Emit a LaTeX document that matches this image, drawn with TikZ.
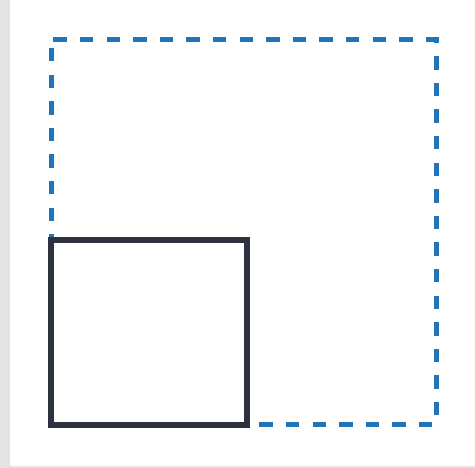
\documentclass[tikz,border=0pt]{standalone}
\usepackage{tikz}
\definecolor{RegionBlue}{RGB}{31,116,186}
\definecolor{BoxInk}{RGB}{46,49,64}
\definecolor{EdgeGray}{RGB}{227,227,227}

\tikzset{
  outer/.style={inner sep=0pt, outer sep=0pt, minimum width=385pt, minimum height=385pt},
  outerline/.style={draw=RegionBlue, line width=5pt, dash pattern=on 13.4pt off 13.2pt},
  inner/.style={draw=BoxInk, line width=6pt, fill=white,
    inner sep=0pt, minimum width=196pt, minimum height=185pt}
}

\begin{document}
\begin{tikzpicture}[x=1pt,y=-1pt]
\useasboundingbox (0,0) rectangle (475,468);
% page edges
\fill[EdgeGray] (0,0) rectangle (10,468);
\fill[EdgeGray] (10,466) rectangle (475,468);
% dashed region, drawn clockwise from just right of its top left corner
\node[outer] (region) at (243.5,232.5) {};
\coordinate (start) at ([xshift=2.3pt]region.north west);
\draw[outerline] (start) -- (region.north east) -- (region.south east)
  -- (region.south west) -- (region.north west) -- (start);
% solid box on top
\node[inner] (box) at (149,332.5) {};
\end{tikzpicture}
\end{document}
